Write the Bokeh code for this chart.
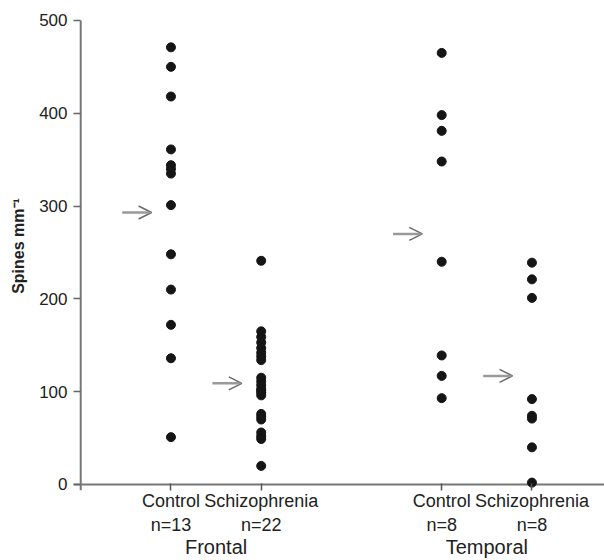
from bokeh.plotting import figure
from bokeh.models import LinearAxis, FixedTicker, Range1d, Arrow, OpenHead
from bokeh.embed import file_html
from bokeh.resources import INLINE

# ---- data ----
positions = [1, 2, 4, 5]
group_labels = ["Control", "Schizophrenia", "Control", "Schizophrenia"]
n_labels = ["n=13", "n=22", "n=8", "n=8"]
regions = ["Frontal", "Temporal"]
region_positions = [1.5, 4.5]
y_ticks = [0, 100, 200, 300, 400, 500]

frontal_control = [471, 450, 418, 361, 344, 340, 335, 301, 248, 210, 172, 136, 51]
frontal_schizophrenia = [241, 165, 159, 153, 147, 142, 138, 134,
                         115, 111, 107, 103, 101, 99, 96,
                         76, 73, 70, 56, 52, 49, 20]
temporal_control = [465, 398, 381, 348, 240, 139, 117, 93]
temporal_schizophrenia = [239, 221, 201, 92, 74, 71, 40, 2]
group_means = [293, 109, 270, 117]

groups = [frontal_control, frontal_schizophrenia, temporal_control, temporal_schizophrenia]

FONT = "Liberation Sans"
AXIS_COLOR = "#777777"
X0, X1 = -0.08, 5.804
Y0, Y1 = -6.5, 520.4

p = figure(width=604, height=560, output_backend="svg", toolbar_location=None,
           x_axis_type=None, y_axis_type=None,
           x_range=Range1d(X0, X1), y_range=Range1d(Y0, Y1),
           min_border_left=73, min_border_right=0, min_border_top=1,
           min_border_bottom=70)
p.outline_line_color = None
p.background_fill_color = "white"
p.border_fill_color = "white"

# y axis (ticks drawn inward from frame edge, line drawn separately)
yaxis = LinearAxis(ticker=FixedTicker(ticks=y_ticks),
                   axis_line_color=None,
                   major_tick_in=7, major_tick_out=0,
                   major_tick_line_color="#666666", major_tick_line_width=1.5,
                   minor_tick_line_color=None,
                   major_label_standoff=6,
                   major_label_text_font=FONT,
                   major_label_text_font_size="17px",
                   major_label_text_color="#222222",
                   axis_label="Spines mm\u207b\u00b9",
                   axis_label_text_font=FONT,
                   axis_label_text_font_style="bold",
                   axis_label_text_font_size="16px",
                   axis_label_text_color="#222222",
                   axis_label_standoff=9)
p.add_layout(yaxis, "left")

# bottom axis 1: group names with ticks
ax1 = LinearAxis(ticker=FixedTicker(ticks=positions),
                 major_label_overrides={pos: lab for pos, lab in zip(positions, group_labels)},
                 axis_line_color=None,
                 major_tick_in=7, major_tick_out=0,
                 major_tick_line_color="#555555", major_tick_line_width=1.5,
                 minor_tick_line_color=None,
                 major_label_standoff=0,
                 major_label_text_font=FONT,
                 major_label_text_font_size="18px",
                 major_label_text_color="#222222")
p.add_layout(ax1, "below")

# bottom axis 2: n labels
ax2 = LinearAxis(ticker=FixedTicker(ticks=positions),
                 major_label_overrides={pos: lab for pos, lab in zip(positions, n_labels)},
                 axis_line_color=None, major_tick_line_color=None,
                 minor_tick_line_color=None,
                 major_tick_in=0, major_tick_out=0,
                 major_label_standoff=1,
                 major_label_text_font=FONT,
                 major_label_text_font_size="18px",
                 major_label_text_color="#222222")
p.add_layout(ax2, "below")

# bottom axis 3: regions
ax3 = LinearAxis(ticker=FixedTicker(ticks=region_positions),
                 major_label_overrides={pos: lab for pos, lab in zip(region_positions, regions)},
                 axis_line_color=None, major_tick_line_color=None,
                 minor_tick_line_color=None,
                 major_tick_in=0, major_tick_out=0,
                 major_label_standoff=-2,
                 major_label_text_font=FONT,
                 major_label_text_font_size="20px",
                 major_label_text_color="#222222")
p.add_layout(ax3, "below")

# axis lines
p.segment(x0=[0, X0], y0=[Y0, 0], x1=[0, X1], y1=[y_ticks[-1], 0],
          line_color=AXIS_COLOR, line_width=2)

# points
xs, ys = [], []
for pos, vals in zip(positions, groups):
    xs.extend([pos] * len(vals))
    ys.extend(vals)
p.scatter(xs, ys, size=9, marker="circle", fill_color="#151515", line_color="#151515")

# mean arrows
for pos, m in zip(positions, group_means):
    p.add_layout(Arrow(end=OpenHead(size=13, line_color="#6a6a6a", line_width=1.5),
                       x_start=pos - 0.54, x_end=pos - 0.215,
                       y_start=m, y_end=m,
                       line_color="#9a9a9a", line_width=2.5))

open("out.html", "w").write(file_html(p, INLINE))
